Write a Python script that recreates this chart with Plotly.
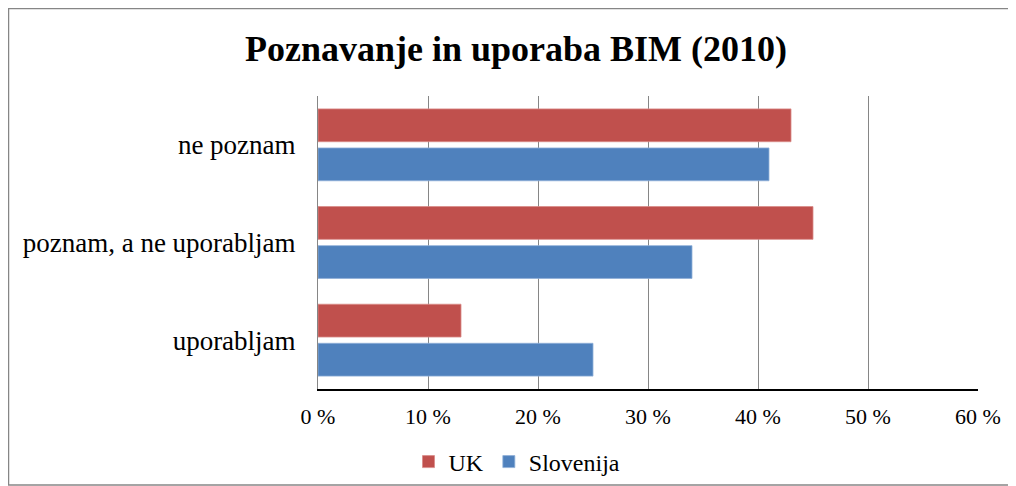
import plotly.graph_objects as go

categories = ["ne poznam", "poznam, a ne uporabljam", "uporabljam"]
uk_values = [43, 45, 13]
slo_values = [41, 34, 25]
tick_vals = [0, 10, 20, 30, 40, 50, 60]
tick_text = ["0 %", "10 %", "20 %", "30 %", "40 %", "50 %", "60 %"]

# the page body adds an 8px offset; target page coordinates are converted below
OFF = 8
W, H = 1016 - OFF, 486 - OFF
L = 318 - OFF
T = 96 - OFF
R = W - (978 - OFF)
B = H - (389 - OFF)
pw, ph = W - L - R, H - T - B

fig = go.Figure()
fig.add_trace(go.Bar(y=categories, x=uk_values, name="UK", orientation="h",
                     marker=dict(color="#C0504D", line=dict(color="#D98B89", width=0.8))))
fig.add_trace(go.Bar(y=categories, x=slo_values, name="Slovenija", orientation="h",
                     marker=dict(color="#4F81BD", line=dict(color="#8FB0D8", width=0.8))))

font = "Liberation Serif"
fig.update_layout(
    width=W, height=H,
    margin=dict(l=L, r=R, t=T, b=B, autoexpand=False),
    paper_bgcolor="white", plot_bgcolor="white",
    barmode="group", bargap=0.2, bargroupgap=0.16,
    title=dict(text="<b>Poznavanje in uporaba BIM (2010)</b>",
               x=(516 - OFF) / W, xanchor="center",
               y=1 - (48 - OFF) / H, yanchor="middle",
               font=dict(family=font, size=36, color="black")),
    legend=dict(orientation="h", x=(517 - 318) / pw, xanchor="center",
                y=-(462 - 389) / ph, yanchor="middle",
                bgcolor="rgba(0,0,0,0)",
                font=dict(family=font, size=24, color="black"),
                itemwidth=30, traceorder="normal"),
    font=dict(family=font, color="black"),
    showlegend=True,
)
fig.update_xaxes(range=[0, 60], tickvals=tick_vals, ticktext=tick_text,
                 showgrid=True, gridcolor="#868686", gridwidth=1,
                 showline=True, linecolor="black", linewidth=1.5,
                 zeroline=False, ticks="", ticklabelstandoff=7, automargin=False,
                 tickfont=dict(family=font, size=22, color="black"), fixedrange=True)
fig.update_yaxes(autorange="reversed", showline=True, linecolor="#868686", linewidth=1,
                 ticks="", ticklabelstandoff=16, automargin=False,
                 tickfont=dict(family=font, size=27, color="black"))

# outer chart border
fig.add_shape(type="rect", xref="paper", yref="paper",
              x0=(OFF + 0.5 - 318) / pw, x1=(1013 - 318) / pw,
              y0=-(485 - 389) / ph, y1=1 + (96 - OFF - 0.5) / ph,
              line=dict(color="#868686", width=1.5), fillcolor="rgba(0,0,0,0)", layer="below")

fig.write_html("out.html")
